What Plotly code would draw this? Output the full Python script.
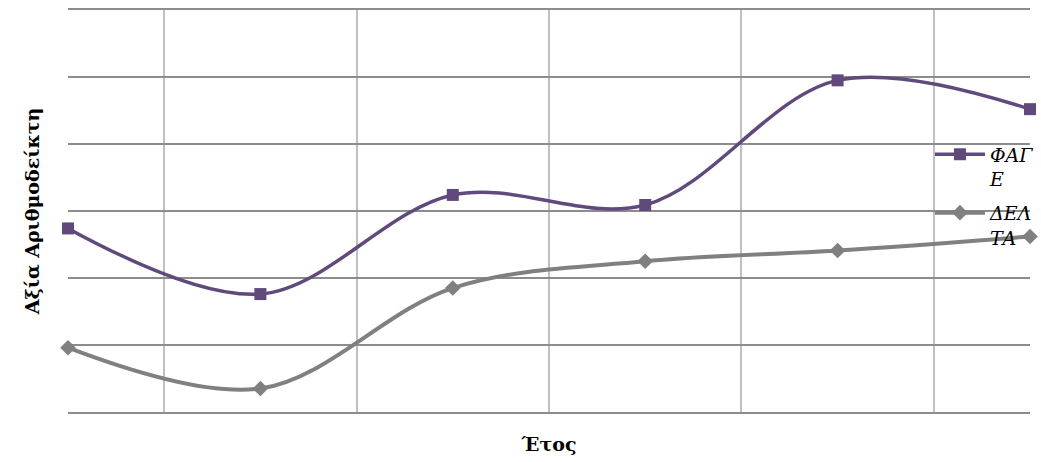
import plotly.graph_objects as go

categories = ["1", "2", "3", "4", "5", "6"]
fage_name = "ΦΑΓ<br>Ε"
delta_name = "ΔΕΛ<br>ΤΑ"
fage_values = [2.74, 1.76, 3.24, 3.09, 4.95, 4.52]
delta_values = [0.96, 0.35, 1.85, 2.25, 2.41, 2.62]

PURPLE = "#604a7b"
GRAY = "#808080"
FONT = "DejaVu Serif"

fig = go.Figure()
fig.add_trace(go.Scatter(
    x=categories, y=fage_values, name=fage_name, mode="lines+markers",
    legendgroup="a",
    line=dict(color=PURPLE, width=3.5, shape="spline", smoothing=1),
    marker=dict(symbol="square", size=12, color=PURPLE),
    cliponaxis=False,
))
fig.add_trace(go.Scatter(
    x=categories, y=delta_values, name=delta_name, mode="lines+markers",
    legendgroup="b",
    line=dict(color=GRAY, width=4, shape="spline", smoothing=1),
    marker=dict(symbol="diamond", size=12, color=GRAY),
    cliponaxis=False,
))

fig.update_layout(
    width=1041, height=462,
    margin=dict(l=68, r=11, t=10, b=50, autoexpand=False),
    plot_bgcolor="white", paper_bgcolor="white",
    font=dict(family=FONT, color="black"),
    showlegend=True,
    legend=dict(
        x=0.896, y=0.688, xanchor="left", yanchor="top",
        bgcolor="rgba(0,0,0,0)", font=dict(size=19, family=FONT, style="italic"),
        valign="top", itemwidth=50, tracegroupgap=6,
    ),
    xaxis=dict(
        type="category", range=[0, 5], showticklabels=False, ticks="",
        tickson="boundaries", showgrid=True, gridcolor="#c0c0c0", gridwidth=1.5,
        zeroline=False, showline=True, mirror=True, linecolor="#8c8c8c", linewidth=1.5,
        title=dict(text="<b>Έτος</b>", font=dict(size=19, family=FONT), standoff=25),
    ),
    yaxis=dict(
        range=[0, 6], dtick=1, showticklabels=False, ticks="",
        showgrid=True, gridcolor="#8c8c8c", gridwidth=1.5,
        zeroline=False, showline=False,
        title=dict(text="<b>Αξία Αριθμοδείκτη</b>", font=dict(size=19, family=FONT), standoff=22),
    ),
)

fig.write_html("out.html")
